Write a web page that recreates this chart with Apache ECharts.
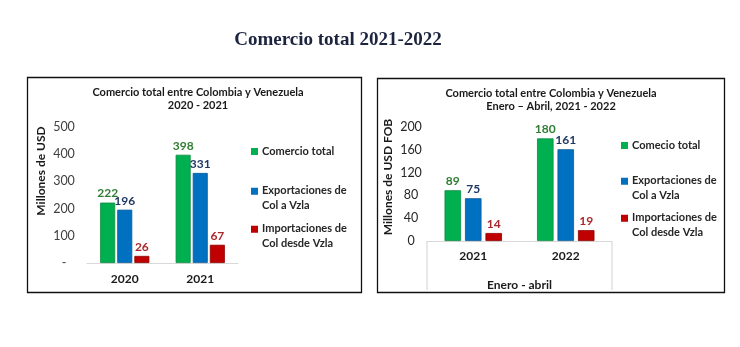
<!DOCTYPE html>
<html>
<head>
<meta charset="utf-8">
<script src="https://cdn.jsdelivr.net/npm/echarts@6/dist/echarts.min.js"></script>
<style>html,body{margin:0;padding:0;background:#fff;}#c{width:740px;height:347px;}</style>
</head>
<body>
<div id="c"></div>
<script>
// ---- data ----
var cats1 = ['2020', '2021'];
var total1 = [222, 398];
var exp1 = [196, 331];
var imp1 = [26, 67];
var yTicks1 = ['-', '100', '200', '300', '400', '500'];

var cats2 = ['2021', '2022'];
var total2 = [89, 180];
var exp2 = [75, 161];
var imp2 = [14, 19];
var yTicks2 = ['0', '40', '80', '120', '160', '200'];

var names1 = ['Comercio total', 'Exportaciones de Col a Vzla', 'Importaciones de Col desde Vzla'];
var names2 = ['Comecio total', 'Exportaciones de Col a Vzla', 'Importaciones de Col desde Vzla'];

// ---- styles ----
var F = 'Lato, "Open Sans", sans-serif';
var GREEN = '#00B050', BLUE = '#0070C0', RED = '#C00000';
var GREEN_B = '#0a8a3e', BLUE_B = '#0a5a9a', RED_B = '#8f0000';
var LG = '#2E7D32', LB = '#1F3864', LR = '#A8282B';
var twoLineIcon = 'path://M0,0H1V1H0Z M0,2.9L0.01,2.9';

function bar(name, data, xi, color, border, lcolor, width, gap) {
  return {
    type: 'bar', name: name, data: data, xAxisIndex: xi, yAxisIndex: xi,
    barWidth: width, barGap: gap,
    itemStyle: { color: color, borderColor: border, borderWidth: 0.8 },
    label: { show: true, position: 'top', distance: 3, color: lcolor,
      fontFamily: F, fontWeight: 'bold', fontSize: 12 },
    emphasis: { disabled: true }
  };
}

function splitName(n) {
  var m = n.match(/^(Exportaciones de|Importaciones de) (.*)$/);
  return m ? m[1] + '\n' + m[2] : n;
}

function legendItem(name, left, top, twoLine) {
  return {
    data: [name], left: left, top: top, orient: 'vertical',
    itemWidth: 7, itemHeight: twoLine ? 21 : 7, itemGap: 0,
    icon: twoLine ? twoLineIcon : 'rect',
    padding: 0, selectedMode: false,
    itemStyle: { borderWidth: 0 },
    formatter: splitName,
    textStyle: { fontFamily: F, fontSize: 11, fontWeight: 'bold', color: '#262626', lineHeight: 15, padding: [0, 0, 0, -1] }
  };
}

var chart = echarts.init(document.getElementById('c'), null, { renderer: 'canvas' });

var option = {
  animation: false,
  backgroundColor: '#ffffff',
  grid: [
    { left: 87, top: 127, width: 151, height: 136 },
    { left: 427, top: 127, width: 185, height: 114 }
  ],
  xAxis: [
    { type: 'category', data: cats1, gridIndex: 0,
      axisLine: { lineStyle: { color: '#d9d9d9', width: 1.2 } }, axisTick: { show: false },
      axisLabel: { margin: 10, fontFamily: F, fontSize: 12, fontWeight: 'bold', color: '#1a1a1a' } },
    { type: 'category', data: cats2, gridIndex: 1,
      name: 'Enero - abril', nameLocation: 'middle', nameGap: 38,
      nameTextStyle: { fontFamily: F, fontSize: 12, fontWeight: 'bold', color: '#1a1a1a' },
      axisLine: { lineStyle: { color: '#d9d9d9', width: 1.2 } }, axisTick: { show: false },
      axisLabel: { margin: 9, fontFamily: F, fontSize: 12, fontWeight: 'bold', color: '#1a1a1a' } }
  ],
  yAxis: [
    { type: 'value', gridIndex: 0, min: 0, max: 500, interval: 100,
      splitLine: { show: false }, axisLine: { show: false }, axisTick: { show: false },
      axisLabel: { margin: 23, align: 'center', fontFamily: F, fontSize: 12.5, color: '#404040',
        formatter: function (v) { return yTicks1[Math.round(v / 100)]; } } },
    { type: 'value', gridIndex: 1, min: 0, max: 200, interval: 40,
      splitLine: { show: false }, axisLine: { show: false }, axisTick: { show: false },
      axisLabel: { margin: 16, align: 'center', fontFamily: F, fontSize: 12.5, color: '#262626',
        formatter: function (v) { return yTicks2[Math.round(v / 40)]; } } }
  ],
  legend: [
    legendItem(names1[0], 251, 144, false),
    legendItem(names1[1], 251, 183, true),
    legendItem(names1[2], 251, 221, true),
    legendItem(names2[0], 621, 138, false),
    legendItem(names2[1], 621, 173, true),
    legendItem(names2[2], 621, 210, true)
  ],
  series: [
    bar(names1[0], total1, 0, GREEN, GREEN_B, LG, 15, '14%'),
    bar(names1[1], exp1, 0, BLUE, BLUE_B, LB, 15, '14%'),
    bar(names1[2], imp1, 0, RED, RED_B, LR, 15, '14%'),
    bar(names2[0], total2, 1, GREEN, GREEN_B, LG, 16.5, '24%'),
    bar(names2[1], exp2, 1, BLUE, BLUE_B, LB, 16.5, '24%'),
    bar(names2[2], imp2, 1, RED, RED_B, LR, 16.5, '24%')
  ],
  graphic: [
    { type: 'rect', shape: { x: 27.5, y: 77.5, width: 334, height: 215 },
      style: { fill: 'none', stroke: '#111', lineWidth: 1.3 }, silent: true },
    { type: 'rect', shape: { x: 377.5, y: 78.5, width: 347, height: 214 },
      style: { fill: 'none', stroke: '#111', lineWidth: 1.3 }, silent: true },
    { type: 'line', shape: { x1: 427, y1: 241, x2: 427, y2: 290 },
      style: { stroke: '#d9d9d9', lineWidth: 1.2 }, silent: true },
    { type: 'line', shape: { x1: 612, y1: 241, x2: 612, y2: 290 },
      style: { stroke: '#d9d9d9', lineWidth: 1.2 }, silent: true },
    { type: 'text', x: 338, y: 40, silent: true,
      style: { text: 'Comercio total 2021-2022', align: 'center', verticalAlign: 'middle',
        font: 'bold 19px "Liberation Serif", serif', fill: '#1c2440' } },
    { type: 'text', x: 198, y: 99, silent: true,
      style: { text: 'Comercio total entre Colombia y Venezuela\n2020 - 2021', align: 'center', verticalAlign: 'middle',
        font: 'bold 11px Lato, sans-serif', fill: '#1a1a1a', lineHeight: 13 } },
    { type: 'text', x: 551, y: 99.5, silent: true,
      style: { text: 'Comercio total entre Colombia y Venezuela\nEnero \u2013 Abril, 2021 - 2022', align: 'center', verticalAlign: 'middle',
        font: 'bold 11px Lato, sans-serif', fill: '#1a1a1a', lineHeight: 13 } },
    { type: 'text', x: 41, y: 171, rotation: Math.PI / 2, silent: true,
      style: { text: 'Millones de USD', align: 'center', verticalAlign: 'middle',
        font: 'bold 12px Lato, sans-serif', fill: '#1a1a1a' } },
    { type: 'text', x: 388, y: 177, rotation: Math.PI / 2, silent: true,
      style: { text: 'Millones de USD FOB', align: 'center', verticalAlign: 'middle',
        font: 'bold 12px Lato, sans-serif', fill: '#1a1a1a' } }
  ]
};
chart.setOption(option);
</script>
</body>
</html>
